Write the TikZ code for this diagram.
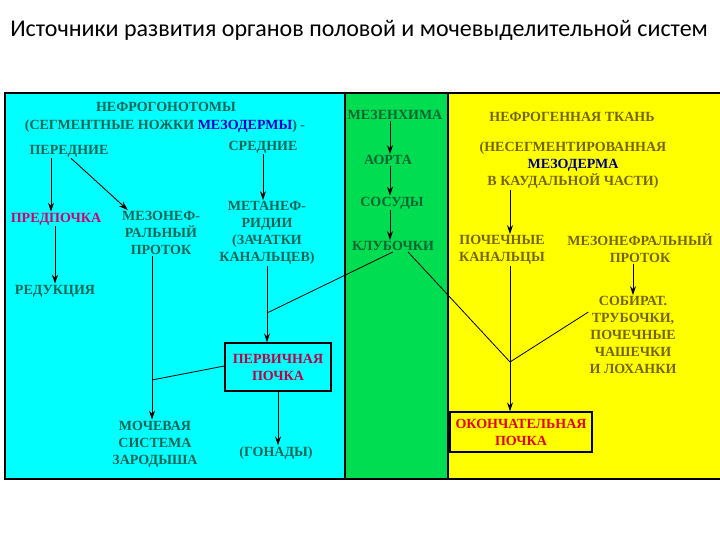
\documentclass[tikz,border=0pt]{standalone}
\usepackage{fontspec}
\setmainfont{Liberation Serif}
\newfontfamily\titlefont{Carlito}
\usetikzlibrary{positioning,arrows.meta}
\definecolor{aqua}{RGB}{0,255,255}
\definecolor{leaf}{RGB}{0,221,80}
\definecolor{lemon}{RGB}{255,255,0}
\definecolor{tealtxt}{RGB}{10,100,85}
\definecolor{grntxt}{RGB}{0,100,50}
\definecolor{olivetxt}{RGB}{115,100,0}
\definecolor{mesoblue}{RGB}{0,0,200}
\definecolor{navytxt}{RGB}{0,0,130}
\definecolor{plumred}{RGB}{210,0,110}
\definecolor{crimtxt}{RGB}{190,0,70}
\definecolor{firered}{RGB}{230,0,0}

\begin{document}
\begin{tikzpicture}[
    x=1pt, y=-1pt,
    txt/.style={font=\bfseries\fontsize{14}{17}\selectfont, align=center,
                inner sep=1pt},
    arr/.style={line width=0.9pt, -{Stealth[length=9pt,width=6pt]}},
    lnk/.style={line width=0.8pt},
    framebox/.style={draw, line width=1.3pt, align=center, inner sep=0pt}
]
\useasboundingbox (0,0) rectangle (720,540);

% ---------- title ----------
\node[font=\titlefont\fontsize{24}{28}\selectfont] (title) at (359,30)
     {Источники развития органов половой и мочевыделительной систем};

% ---------- panels ----------
\fill[aqua]  (5,93)   rectangle (345,479);
\fill[leaf]  (345,93) rectangle (448,479);
\fill[lemon] (448,93) rectangle (720,479);
\draw[line width=1.5pt] (720,93) -- (5,93) -- (5,479) -- (720,479);
\draw[line width=1.2pt] (345,93) -- (345,479);
\draw[line width=1.2pt] (448,93) -- (448,479);

% ---------- left panel ----------
\node[txt, tealtxt] (gonot) at (166,107) {НЕФРОГОНОТОМЫ};
\node[txt, tealtxt] (segm)  at (165,126)
     {(СЕГМЕНТНЫЕ НОЖКИ {\color{mesoblue}МЕЗОДЕРМЫ}) -};
\node[txt, tealtxt] (peredn) at (69,151)  {ПЕРЕДНИЕ};
\node[txt, tealtxt] (sredn)  at (263,147) {СРЕДНИЕ};
\node[txt, plumred] (predp)  at (56,219)  {ПРЕДПОЧКА};
\node[txt, tealtxt] (mesod)  at (161,233) {МЕЗОНЕФ-\\РАЛЬНЫЙ\\ПРОТОК};
\node[txt, tealtxt] (metan)  at (267,233) {МЕТАНЕФ-\\РИДИИ\\(ЗАЧАТКИ\\КАНАЛЬЦЕВ)};
\node[txt, tealtxt] (redukc) at (55,291)  {РЕДУКЦИЯ};
\node[txt, framebox, crimtxt, minimum width=106pt, minimum height=48pt,
      text=crimtxt, draw=black] (perv) at (278,367) {ПЕРВИЧНАЯ\\ПОЧКА};
\node[txt, tealtxt] (mochev) at (155,444) {МОЧЕВАЯ\\СИСТЕМА\\ЗАРОДЫША};
\node[txt, tealtxt] (gonad)  at (276,453) {(ГОНАДЫ)};

\draw[arr] ([xshift=-5pt]predp.north |- peredn.south) -- ([xshift=-5pt]predp.north);
\draw[arr] ([xshift=2pt]peredn.south) -- ([xshift=7pt]mesod.north west);
\draw[arr] (sredn.south) -- (sredn.south |- metan.north);
\draw[arr] (redukc.north |- predp.south) -- (redukc.north);
\draw[arr] ([xshift=-9pt]mesod.south) -- ([xshift=-9pt]mesod.south |- mochev.north);
\draw[arr] (metan.south) -- (metan.south |- perv.north);
\draw[arr] (perv.south) -- (perv.south |- gonad.north);

% ---------- middle panel ----------
\node[txt, grntxt] (mezen) at (395,115) {МЕЗЕНХИМА};
\node[txt, grntxt] (aorta) at (388,160) {АОРТА};
\node[txt, grntxt] (sosud) at (392,203) {СОСУДЫ};
\node[txt, grntxt] (klub)  at (393,246) {КЛУБОЧКИ};
\coordinate (gx) at (390,0);
\foreach \a/\b in {mezen/aorta, aorta/sosud, sosud/klub}
  \draw[arr] (\a.south -| gx) -- (\b.north -| gx);

% ---------- right panel ----------
\node[txt, olivetxt] (nefrog) at (572,117) {НЕФРОГЕННАЯ ТКАНЬ};
\node[txt, olivetxt] (nesegm) at (573,165)
     {(НЕСЕГМЕНТИРОВАННАЯ\\{\color{navytxt}МЕЗОДЕРМА}\\В КАУДАЛЬНОЙ ЧАСТИ)};
\node[txt, olivetxt] (pochk)  at (502,250) {ПОЧЕЧНЫЕ\\КАНАЛЬЦЫ};
\node[txt, olivetxt] (mesoyl) at (640,248) {МЕЗОНЕФРАЛЬНЫЙ\\ПРОТОК};
\node[txt, olivetxt] (sobir)  at (633,335)
     {СОБИРАТ.\\ТРУБОЧКИ,\\ПОЧЕЧНЫЕ\\ЧАШЕЧКИ\\И ЛОХАНКИ};
\node[txt, framebox, draw=black, text=firered, minimum width=142pt,
      minimum height=40pt] (okonch) at (521,432) {ОКОНЧАТЕЛЬНАЯ\\ПОЧКА};

\coordinate (vx) at (510,0);
\draw[arr] (nesegm.south -| vx) -- (pochk.north -| vx);
\draw[arr] (pochk.south -| vx) -- (okonch.north -| vx);
\draw[arr] (mesoyl.south -| sobir.north) -- (sobir.north);

% ---------- links ----------
\coordinate (j1) at (metan.south |- 0,313);
\coordinate (j2) at ([xshift=-9pt]mesod.south |- 0,380);
\coordinate (j3) at (vx |- 0,362);
\draw[lnk] (klub.south) -- (j1);
\draw[lnk] ([yshift=1pt]perv.west) -- (j2);
\draw[lnk] ([xshift=15pt]klub.south) -- (j3);
\draw[lnk] ([yshift=23pt]sobir.west) -- (j3);

\end{tikzpicture}
\end{document}
